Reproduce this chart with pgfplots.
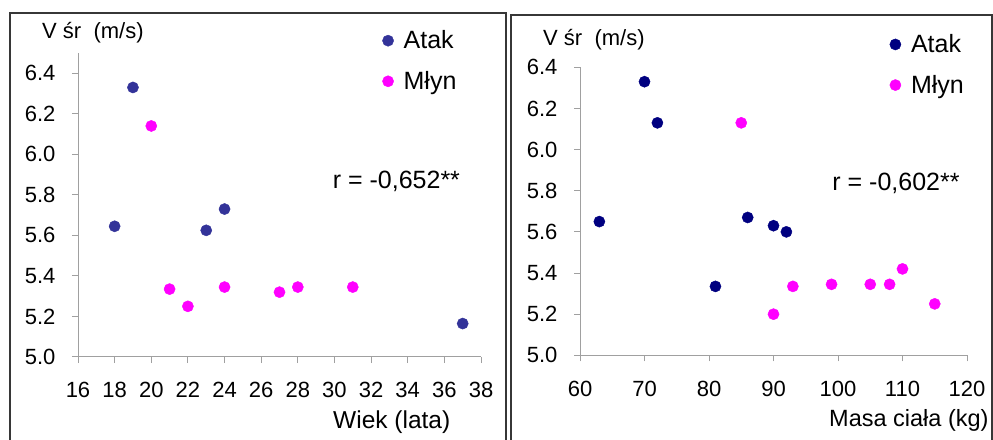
\documentclass[border=0pt]{standalone}
\usepackage{pgfplots}
\pgfplotsset{compat=1.18}
\usepackage{fontspec}
\setmainfont{Liberation Sans}
\definecolor{atakA}{RGB}{51,51,153}
\definecolor{atakB}{RGB}{0,0,128}
\definecolor{mlyn}{RGB}{255,0,255}
\definecolor{axgray}{RGB}{160,160,160}
\definecolor{frame}{RGB}{55,55,55}

\pgfplotsset{
  panel/.style={
    scale only axis, clip=false,
    axis lines*=left,
    axis line style={axgray, line width=1pt},
    every tick/.style={axgray, line width=1pt},
    tick align=outside, major tick length=6pt,
    ymin=5, ytick={5.0,5.2,...,6.4},
    yticklabel style={/pgf/number format/fixed, /pgf/number format/fixed zerofill,
      /pgf/number format/precision=1, /pgf/number format/assume math mode=true, xshift=-13pt},
    xticklabel style={/pgf/number format/assume math mode=true, yshift=-16pt},
    tick label style={font=\fontsize{22}{26}\selectfont},
    legend style={draw=none, fill=none, font=\fontsize{25}{30}\selectfont,
      inner sep=0pt, row sep=17pt, column sep=8pt, cells={anchor=west}},
    legend image code/.code={\draw[#1] plot coordinates {(0pt,0pt)};},
    only marks,
  },
}

\begin{document}
\begin{tikzpicture}[x=1pt,y=1pt]
\useasboundingbox (0,0) rectangle (993,439);
% frames
\draw[frame, line width=2pt] (10,-2) -- (10,426) -- (505.5,426) -- (505.5,-2);
\draw[frame, line width=2pt] (510.7,-2) -- (510.7,424) -- (991.7,424) -- (991.7,-2);

% left: wiek
\begin{axis}[panel, at={(78pt,82pt)}, anchor=south west,
  width=403pt, height=304pt,
  xmin=16, xmax=38, xtick={16,18,...,38}, ymax=6.5,
  legend style={at={(0.755,1.08)}, anchor=north west}]
\addplot[mark=*, mark size=5.6pt, draw=atakA, fill=atakA] coordinates {
  (18,5.645) (19,6.33) (23,5.625) (24,5.73) (37,5.165)};
\addplot[mark=*, mark size=5.6pt, draw=mlyn, fill=mlyn] coordinates {
  (20,6.14) (21,5.335) (22,5.25) (24,5.345) (27,5.32) (28,5.345) (31,5.345)};
\legend{Atak, Młyn}
\node[anchor=west, font=\fontsize{25}{30}\selectfont, inner sep=0pt] at (axis cs:29.9,5.866) {r = -0,652**};
\end{axis}

% right: masa ciala
\begin{axis}[panel, at={(580pt,83.7pt)}, anchor=south west,
  width=387pt, height=288pt,
  xmin=60, xmax=120, xtick={60,70,...,120}, ymax=6.4,
  legend style={at={(0.80,1.121)}, anchor=north west}]
\addplot[mark=*, mark size=5.6pt, draw=atakB, fill=atakB] coordinates {
  (63,5.65) (70,6.33) (72,6.13) (81,5.335) (86,5.67) (90,5.63) (92,5.60)};
\addplot[mark=*, mark size=5.6pt, draw=mlyn, fill=mlyn] coordinates {
  (85,6.13) (90,5.20) (93,5.335) (99,5.345) (105,5.345) (108,5.345) (110,5.42) (115,5.25)};
\legend{Atak, Młyn}
\node[anchor=west, font=\fontsize{25}{30}\selectfont, inner sep=0pt] at (axis cs:99.1,5.838) {r = -0,602**};
\end{axis}

% axis titles
\node[anchor=west, inner sep=0pt, font=\fontsize{22}{26}\selectfont] at (42,406) {V śr\ \ (m/s)};
\node[anchor=west, inner sep=0pt, font=\fontsize{22}{26}\selectfont] at (543,399) {V śr\ \ (m/s)};
\node[anchor=west, inner sep=0pt, font=\fontsize{24.5}{29}\selectfont] at (333,17.3) {Wiek (lata)};
\node[anchor=west, inner sep=0pt, font=\fontsize{23.5}{28}\selectfont] at (829,18.3) {Masa ciała (kg)};
\end{tikzpicture}
\end{document}
